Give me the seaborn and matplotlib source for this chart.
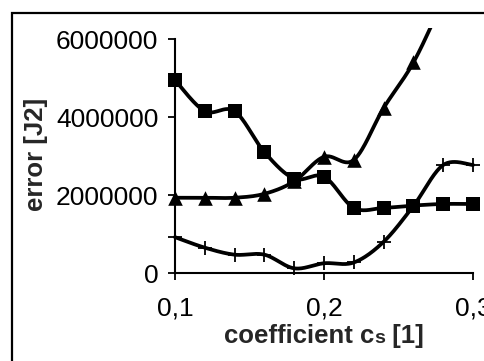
import numpy as np
import pandas as pd
import matplotlib
matplotlib.use("Agg")
import matplotlib.pyplot as plt
from matplotlib.patches import Rectangle
import seaborn as sns

# ---- data ----
cs = [0.10, 0.12, 0.14, 0.16, 0.18, 0.20, 0.22, 0.24, 0.26, 0.28, 0.30]
err_square = [4950000, 4150000, 4150000, 3100000, 2420000, 2470000,
              1670000, 1670000, 1730000, 1770000, 1770000]
err_triangle = [1930000, 1930000, 1930000, 2030000, 2350000, 2980000,
                2900000, 4230000, 5400000, 7000000, 8600000]
err_plus = [920000, 650000, 470000, 470000, 120000, 250000,
            270000, 800000, 1720000, 2770000, 2770000]
x_ticks = [0.1, 0.2, 0.3]
x_tick_labels = ["0,1", "0,2", "0,3"]
y_ticks = [0, 2000000, 4000000, 6000000]
y_tick_labels = ["0", "2000000", "4000000", "6000000"]
x_label_parts = ["coefficient c", "s", " [1]"]
y_label = "error [J2]"


def smooth(xs, ys, n=30):
    """Excel-like Bezier smoothing of a polyline (rendering only)."""
    P = np.column_stack([xs, ys]).astype(float)
    out = []
    m = len(P)
    for i in range(m - 1):
        p0 = P[i - 1] if i > 0 else P[i]
        p1, p2 = P[i], P[i + 1]
        p3 = P[i + 2] if i + 2 < m else P[i + 1]
        c1 = p1 + (p2 - p0) / 6.0
        c2 = p2 - (p3 - p1) / 6.0
        t = np.linspace(0, 1, n)[:, None]
        seg = ((1 - t) ** 3) * p1 + 3 * ((1 - t) ** 2) * t * c1 \
            + 3 * (1 - t) * t ** 2 * c2 + t ** 3 * p2
        out.append(seg if i == 0 else seg[1:])
    s = np.vstack(out)
    return s[:, 0], s[:, 1]


sns.set_style("white")
plt.rcParams["font.family"] = ["Liberation Sans", "DejaVu Sans"]

W, H = 485, 361
fig = plt.figure(figsize=(W / 100, H / 100), dpi=100)
# axes placement in pixels
x_left, x_right = 167.5, 480.5
y_top, y_bot = 28.1, 280.8
ax = fig.add_axes([x_left / W, 1 - y_bot / H, (x_right - x_left) / W, (y_bot - y_top) / H])
ax.set_facecolor("white")

series = [(err_square, "s", 10.5 ** 2, 0),
          (err_triangle, "^", 10.5 ** 2, 0),
          (err_plus, "+", 9.5 ** 2, 1.3)]
for vals, mk, size, lw in series:
    sx, sy = smooth(cs, vals)
    sns.lineplot(x=sx, y=sy, sort=False, estimator=None, color="black",
                 linewidth=2.7, ax=ax, zorder=2)
    if mk == "+":
        sns.scatterplot(x=cs, y=vals, marker=mk, s=size, color="black",
                        linewidth=lw, ax=ax, zorder=3)
    else:
        sns.scatterplot(x=cs, y=vals, marker=mk, s=size, color="black",
                        linewidth=0, ax=ax, zorder=3)

ax.set_xlim(0.095, 0.305)
ax.set_ylim(-200000, 6280000)

for side in ["top", "right"]:
    ax.spines[side].set_visible(False)
ax.spines["left"].set_position(("data", 0.1))
ax.spines["bottom"].set_position(("data", 0))
ax.spines["left"].set_bounds(0, 6000000)
ax.spines["bottom"].set_bounds(0.1, 0.3)
for side in ["left", "bottom"]:
    ax.spines[side].set_linewidth(1.5)
    ax.spines[side].set_color("black")

ax.set_xticks(x_ticks)
ax.set_xticklabels(x_tick_labels)
ax.set_yticks(y_ticks)
ax.set_yticklabels(y_tick_labels)
ax.tick_params(axis="both", direction="out", length=5, width=1.3, colors="black",
               labelsize=19, left=True, bottom=True)
ax.tick_params(axis="y", pad=7)
ax.tick_params(axis="x", pad=12)

ax.set_ylabel(y_label, fontsize=18.5, fontweight="bold")
ax.yaxis.label.set_va("center")
ax.yaxis.set_label_coords((36 - x_left) / (x_right - x_left), 0.5)
ax.set_xlabel("")

# x label composed of pieces (smaller "s" on the same baseline)
renderer = fig.canvas.get_renderer()
sizes = [18.5, 14, 18.5]
texts = []
widths = []
for part, fs in zip(x_label_parts, sizes):
    t = fig.text(0, 0, part, fontsize=fs, fontweight="bold", ha="left", va="baseline")
    widths.append(t.get_window_extent(renderer).width)
    texts.append(t)
total = sum(widths)
cx = 324.0
base_y = 343.0
xpos = cx - total / 2
for t, w in zip(texts, widths):
    t.set_position((xpos / W, 1 - base_y / H))
    xpos += w

# figure border
fig.add_artist(Rectangle((12 / W, -0.5), 2.0, (1 - 12.5 / H) + 0.5, fill=False,
                         edgecolor="black", linewidth=1.6, transform=fig.transFigure))

fig.savefig("out.png", dpi=100, facecolor="white")
